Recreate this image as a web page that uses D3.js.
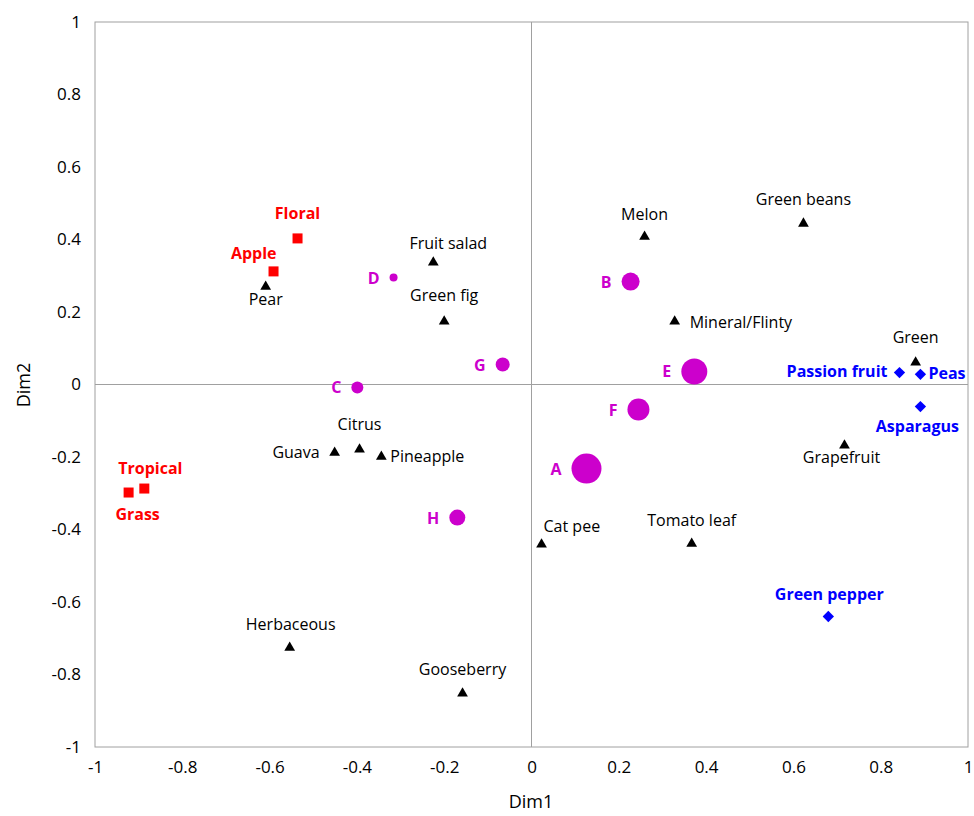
<!DOCTYPE html>
<html><head><meta charset="utf-8">
<script src="https://cdn.jsdelivr.net/npm/d3@7"></script>
<style>body{margin:0;background:#fff}text{font-family:"Open Sans","Liberation Sans",sans-serif}</style>
</head><body><svg id="c" width="974" height="816"></svg>
<script>
const attrNames=["Pear","Fruit salad","Green fig","Melon","Green beans","Mineral/Flinty","Green","Citrus","Guava","Pineapple","Grapefruit","Cat pee","Tomato leaf","Herbaceous","Gooseberry"];
const attrX=[-0.609,-0.225,-0.2,0.259,0.623,0.328,0.88,-0.394,-0.451,-0.344,0.717,0.023,0.367,-0.554,-0.158];
const attrY=[0.27,0.337,0.174,0.408,0.444,0.174,0.061,-0.179,-0.188,-0.199,-0.168,-0.441,-0.439,-0.726,-0.852];
const redNames=["Floral","Apple","Tropical","Grass"];
const redX=[-0.536,-0.591,-0.887,-0.923];
const redY=[0.403,0.312,-0.287,-0.298];
const blueNames=["Passion fruit","Peas","Asparagus","Green pepper"];
const blueX=[0.843,0.891,0.891,0.68];
const blueY=[0.033,0.028,-0.061,-0.64];
const prodNames=["A","B","C","D","E","F","G","H"];
const prodX=[0.126,0.227,-0.399,-0.316,0.373,0.245,-0.066,-0.17];
const prodY=[-0.232,0.284,-0.008,0.295,0.036,-0.069,0.055,-0.367];
const prodSize=[15,9,6,4,13,11,7,8];
const ticks=[-1,-0.8,-0.6,-0.4,-0.2,0,0.2,0.4,0.6,0.8,1];
const attrLab=[[0,18,"middle"],[15,-13,"middle"],[0,-20,"middle"],[0,-17,"middle"],[0,-19,"middle"],[15,7,"start"],[0,-19,"middle"],[0,-19,"middle"],[-15,5,"end"],[9,5,"start"],[-3,18,"middle"],[2,-12,"start"],[0,-18,"middle"],[1,-18,"middle"],[0,-18,"middle"]];
const redLab=[[0,-19,"middle"],[3,-12,"end"],[6,-15,"middle"],[9,27,"middle"]];
const blueLab=[[-12,4,"end"],[8,5,"start"],[-3,25,"middle"],[1,-17,"middle"]];

const svg=d3.select("#c");
const x=d3.scaleLinear().domain([-1,1]).range([95,968]);
const y=d3.scaleLinear().domain([-1,1]).range([747,22]);
const fmt=d=>String(d);
svg.append("rect").attr("x",95).attr("y",22).attr("width",873).attr("height",725).attr("fill","none").attr("stroke","#a0a0a0");
svg.append("line").attr("x1",x(0)).attr("x2",x(0)).attr("y1",22).attr("y2",747).attr("stroke","#a0a0a0");
svg.append("line").attr("x1",95).attr("x2",968).attr("y1",y(0)).attr("y2",y(0)).attr("stroke","#a0a0a0");
const ax=svg.append("g").attr("transform","translate(0,747)").call(d3.axisBottom(x).tickValues(ticks).tickSize(0).tickPadding(14).tickFormat(fmt));
const ay=svg.append("g").attr("transform","translate(95,0)").call(d3.axisLeft(y).tickValues(ticks).tickSize(0).tickPadding(14).tickFormat(fmt));
[ax,ay].forEach(g=>{g.select(".domain").remove();g.selectAll("text").attr("font-size",17).attr("fill","#000").style("font-family","'Open Sans',sans-serif");});
svg.append("text").attr("x",531).attr("y",808).attr("text-anchor","middle").attr("font-size",18).text("Dim1");
svg.append("text").attr("transform","translate(30,385) rotate(-90)").attr("text-anchor","middle").attr("font-size",18).text("Dim2");

const tri=d3.symbol().type(d3.symbolTriangle).size(50);
attrNames.forEach((n,i)=>{
  svg.append("path").attr("d",tri).attr("transform",`translate(${x(attrX[i])},${y(attrY[i])})`).attr("fill","#000");
  const l=attrLab[i];
  svg.append("text").attr("x",x(attrX[i])+l[0]).attr("y",y(attrY[i])+l[1]).attr("text-anchor",l[2]).attr("font-size",16).text(n);
});
redNames.forEach((n,i)=>{
  svg.append("rect").attr("x",x(redX[i])-5).attr("y",y(redY[i])-5).attr("width",10).attr("height",10).attr("fill","#ff0000");
  const l=redLab[i];
  svg.append("text").attr("x",x(redX[i])+l[0]).attr("y",y(redY[i])+l[1]).attr("text-anchor",l[2]).attr("font-size",16).attr("font-weight","bold").attr("fill","#ff0000").text(n);
});
blueNames.forEach((n,i)=>{
  svg.append("rect").attr("x",-4).attr("y",-4).attr("width",8).attr("height",8).attr("transform",`translate(${x(blueX[i])},${y(blueY[i])}) rotate(45)`).attr("fill","#0000ff");
  const l=blueLab[i];
  svg.append("text").attr("x",x(blueX[i])+l[0]).attr("y",y(blueY[i])+l[1]).attr("text-anchor",l[2]).attr("font-size",16).attr("font-weight","bold").attr("fill","#0000ff").text(n);
});
prodNames.forEach((n,i)=>{
  svg.append("circle").attr("cx",x(prodX[i])).attr("cy",y(prodY[i])).attr("r",prodSize[i]).attr("fill","#cc00cc");
  svg.append("text").attr("x",x(prodX[i])-prodSize[i]-10).attr("y",y(prodY[i])+6).attr("text-anchor","end").attr("font-size",16).attr("font-weight","bold").attr("fill","#cc00cc").text(n);
});
</script></body></html>
